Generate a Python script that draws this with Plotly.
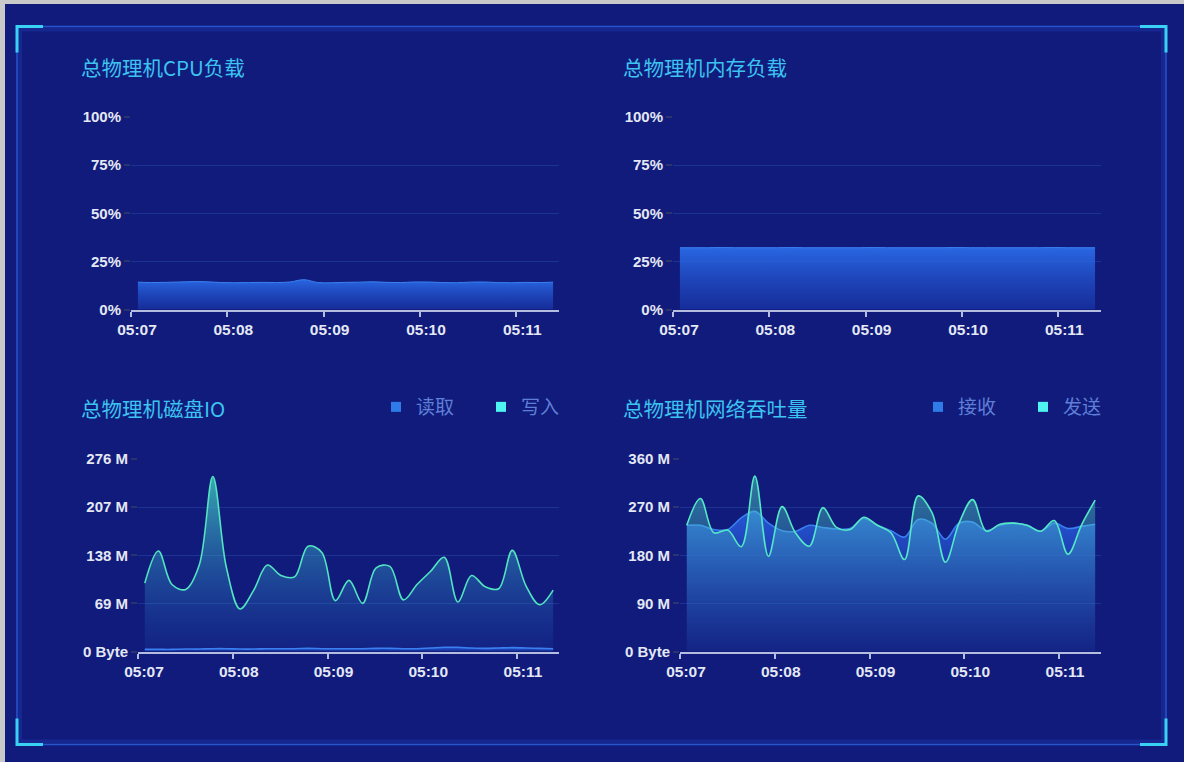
import plotly.graph_objects as go

W, H = 1184, 762

# ---------------- data ----------------
times = [
    "2021-01-01 05:07:04.3", "2021-01-01 05:07:12.9", "2021-01-01 05:07:21.5", "2021-01-01 05:07:30.2",
    "2021-01-01 05:07:38.8", "2021-01-01 05:07:47.4", "2021-01-01 05:07:56.0", "2021-01-01 05:08:04.6",
    "2021-01-01 05:08:13.3", "2021-01-01 05:08:21.9", "2021-01-01 05:08:30.5", "2021-01-01 05:08:39.1",
    "2021-01-01 05:08:47.7", "2021-01-01 05:08:56.4", "2021-01-01 05:09:05.0", "2021-01-01 05:09:13.6",
    "2021-01-01 05:09:22.2", "2021-01-01 05:09:30.8", "2021-01-01 05:09:39.5", "2021-01-01 05:09:48.1",
    "2021-01-01 05:09:56.7", "2021-01-01 05:10:05.3", "2021-01-01 05:10:13.9", "2021-01-01 05:10:22.6",
    "2021-01-01 05:10:31.2", "2021-01-01 05:10:39.8", "2021-01-01 05:10:48.4", "2021-01-01 05:10:57.0",
    "2021-01-01 05:11:05.7", "2021-01-01 05:11:14.3", "2021-01-01 05:11:22.9",
]

cpu_pct = [14.2, 14.0, 14.1, 14.3, 14.5, 14.4, 14.0, 13.9, 14.0, 14.1, 14.0, 14.3, 15.5, 14.0, 13.9, 14.1,
           14.2, 14.4, 14.1, 14.0, 14.3, 14.3, 14.0, 13.9, 14.2, 14.3, 14.0, 13.9, 14.1, 14.0, 14.2]

mem_pct = [32.1, 32.1, 32.1, 32.2, 32.1, 32.1, 32.1, 32.1, 32.2, 32.1, 32.1, 32.1, 32.1, 32.1, 32.2, 32.1,
           32.1, 32.1, 32.1, 32.1, 32.2, 32.1, 32.1, 32.1, 32.1, 32.1, 32.1, 32.2, 32.1, 32.1, 32.1]

disk_read_m = [3.0, 3.0, 3.0, 3.5, 3.5, 4.0, 4.0, 3.5, 3.5, 4.0, 4.0, 4.0, 4.5, 4.0, 4.0, 4.0,
               4.0, 4.5, 4.5, 4.0, 4.0, 5.0, 6.0, 6.0, 5.0, 4.5, 5.0, 5.5, 5.0, 4.5, 4.0]

disk_write_m = [98, 144, 96, 89, 124, 251, 120, 61, 88, 124, 109, 107, 151, 142, 73, 102,
                69, 120, 122, 74, 96, 115, 135, 71, 109, 93, 90, 145, 94, 67, 88]

net_recv_m = [236, 236, 228, 228, 250, 262, 240, 226, 225, 236, 232, 229, 230, 249, 236, 226,
              214, 247, 240, 210, 240, 242, 226, 236, 240, 236, 225, 240, 230, 234, 238]

net_send_m = [236, 286, 222, 227, 196, 328, 178, 271, 221, 197, 269, 232, 228, 251, 236, 222,
              172, 291, 260, 167, 240, 284, 225, 238, 240, 236, 225, 245, 182, 237, 283]

titles = ["总物理机CPU负载", "总物理机内存负载", "总物理机磁盘IO", "总物理机网络吞吐量"]
disk_legend = ["读取", "写入"]
net_legend = ["接收", "发送"]

pct_ticks = [0, 25, 50, 75, 100]
pct_text = ["0%", "25%", "50%", "75%", "100%"]
disk_ticks = [0, 69, 138, 207, 276]
disk_text = ["0 Byte", "69 M", "138 M", "207 M", "276 M"]
net_ticks = [0, 90, 180, 270, 360]
net_text = ["0 Byte", "90 M", "180 M", "270 M", "360 M"]
x_ticks = ["2021-01-01 05:07", "2021-01-01 05:08", "2021-01-01 05:09", "2021-01-01 05:10", "2021-01-01 05:11"]
x_text = ["05:07", "05:08", "05:09", "05:10", "05:11"]
x_range = ["2021-01-01 05:07:00", "2021-01-01 05:11:26.6"]

# ---------------- style ----------------
BG = "#101b7c"
TITLE_C = "#3cc3f0"
LABEL_C = "#e4e8f4"
GRID_C = "#1d3394"
AXIS_C = "#b4bce0"
LEG_C = "#5f7fd6"
CJK = "Noto Sans CJK SC"
LAT = "Liberation Sans, Arial, sans-serif"


def px(x):
    return x / W


def py(y):
    return 1 - y / H


def area(x, y, xa, ya, line_c, top_c, bot_c, lw=1.5):
    return go.Scatter(
        x=x, y=y, xaxis=xa, yaxis=ya, mode="lines",
        line=dict(color=line_c, width=lw, shape="spline", smoothing=1.0),
        fill="tozeroy",
        fillgradient=dict(type="vertical", colorscale=[[0, bot_c], [1, top_c]], start=0, stop=max(y)),
        showlegend=False, hoverinfo="skip",
    )


fig = go.Figure()

# CPU
fig.add_trace(area(times, cpu_pct, "x", "y", "#3a80f0",
                   "rgba(42,108,232,0.95)", "rgba(35,80,210,0.35)", 1))
# Memory
fig.add_trace(area(times, mem_pct, "x2", "y2", "#3a80f0",
                   "rgba(42,108,232,0.95)", "rgba(35,80,210,0.35)", 1))
# Disk IO: write then read
fig.add_trace(area(times, disk_write_m, "x3", "y3", "#52e4c0",
                   "rgba(70,215,195,0.75)", "rgba(40,100,200,0.10)", 1.6))
fig.add_trace(area(times, disk_read_m, "x3", "y3", "#3a80f0",
                   "rgba(42,108,232,0.9)", "rgba(35,80,210,0.3)", 1.6))
# Network: receive then send
fig.add_trace(area(times, net_recv_m, "x4", "y4", "#3a80f0",
                   "rgba(40,92,222,0.92)", "rgba(30,60,180,0.10)", 1.6))
fig.add_trace(area(times, net_send_m, "x4", "y4", "#55e8c6",
                   "rgba(80,222,195,0.50)", "rgba(60,150,200,0.05)", 1.6))

# legend-only entries
leg_cols = ["#2f7ce8", "#4ff4f0"]
for name, col in zip(disk_legend, leg_cols):
    fig.add_trace(go.Scatter(x=[None], y=[None], xaxis="x3", yaxis="y3", mode="markers", name=name,
                             marker=dict(symbol="square", size=10, color=col), legend="legend"))
for name, col in zip(net_legend, leg_cols):
    fig.add_trace(go.Scatter(x=[None], y=[None], xaxis="x4", yaxis="y4", mode="markers", name=name,
                             marker=dict(symbol="square", size=10, color=col), legend="legend2"))


def xaxis(d0, d1, anchor):
    return dict(
        domain=[px(d0), px(d1)], anchor=anchor, type="date", range=x_range,
        tickmode="array", tickvals=x_ticks, ticktext=x_text,
        showline=True, linecolor=AXIS_C, linewidth=2,
        ticks="outside", ticklen=5, tickwidth=1.5, tickcolor=AXIS_C,
        showgrid=False, zeroline=False, automargin=False,
        tickfont=dict(family=LAT, size=15.5, color=LABEL_C, weight="bold"),
        ticklabelshift=6, fixedrange=True,
    )


def yaxis(d0, d1, anchor, rng, tv, tt):
    return dict(
        domain=[py(d1), py(d0)], anchor=anchor, range=rng,
        tickmode="array", tickvals=tv, ticktext=tt,
        showline=False, showgrid=True, gridcolor=GRID_C, gridwidth=1, zeroline=False,
        ticks="outside", ticklen=6, tickwidth=1.5, tickcolor="#2a3470", automargin=False,
        tickfont=dict(family=LAT, size=15, color=LABEL_C, weight="bold"), fixedrange=True,
    )


shapes = []
# outer gray border (top & left)
shapes.append(dict(type="rect", xref="paper", yref="paper", x0=0, x1=1, y0=py(4), y1=1,
                   fillcolor="#c9c9c9", line=dict(width=0), layer="below"))
shapes.append(dict(type="rect", xref="paper", yref="paper", x0=0, x1=px(5), y0=0, y1=1,
                   fillcolor="#c9c9c9", line=dict(width=0), layer="below"))
# frame
FX0, FX1, FY0, FY1 = 17, 1166, 26.5, 744.5
shapes.append(dict(type="rect", xref="paper", yref="paper", x0=px(FX0), x1=px(FX1), y0=py(FY1), y1=py(FY0),
                   line=dict(color="rgba(45,105,235,0.75)", width=1.5), fillcolor="rgba(0,0,0,0)", layer="below"))
shapes.append(dict(type="rect", xref="paper", yref="paper", x0=px(FX0 + 3), x1=px(FX1 - 3), y0=py(FY1 - 3), y1=py(FY0 + 3),
                   line=dict(color="rgba(40,80,200,0.25)", width=4), fillcolor="rgba(0,0,0,0)", layer="below"))
CL = 26
CC = "#3ad2f4"
for (cx, cy, dx, dy) in [(FX0, FY0, 1, 1), (FX1, FY0, -1, 1), (FX0, FY1, 1, -1), (FX1, FY1, -1, -1)]:
    path = f"M {px(cx + dx * CL)},{py(cy)} L {px(cx)},{py(cy)} L {px(cx)},{py(cy + dy * CL)}"
    shapes.append(dict(type="path", xref="paper", yref="paper", path=path,
                       line=dict(color=CC, width=3), layer="above"))

annotations = []
for t, (x, y) in zip(titles, [(79, 67), (621, 67), (79, 408), (621, 408)]):
    annotations.append(dict(text=t, x=px(x), y=py(y), xref="paper", yref="paper",
                            xanchor="left", yanchor="middle", showarrow=False,
                            font=dict(family=CJK, size=20.5, color=TITLE_C)))

leg_common = dict(orientation="h", xanchor="left", yanchor="middle", bgcolor="rgba(0,0,0,0)",
                  font=dict(family=CJK, size=19, color=LEG_C), entrywidth=60, entrywidthmode="pixels",
                  itemclick=False, itemdoubleclick=False)

fig.update_layout(
    width=W, height=H, margin=dict(l=0, r=0, t=0, b=0, pad=0, autoexpand=False),
    paper_bgcolor=BG, plot_bgcolor="rgba(0,0,0,0)",
    showlegend=True,
    legend=dict(x=px(376), y=py(407), **leg_common),
    legend2=dict(x=px(918), y=py(407), **leg_common),
    xaxis=xaxis(131, 559, "y"), yaxis=yaxis(117, 309.5, "x", [0, 100], pct_ticks, pct_text),
    xaxis2=xaxis(673, 1101, "y2"), yaxis2=yaxis(117, 309.5, "x2", [0, 100], pct_ticks, pct_text),
    xaxis3=xaxis(138, 559, "y3"), yaxis3=yaxis(459, 651.5, "x3", [0, 276], disk_ticks, disk_text),
    xaxis4=xaxis(680, 1101, "y4"), yaxis4=yaxis(459, 651.5, "x4", [0, 360], net_ticks, net_text),
    shapes=shapes, annotations=annotations,
    hovermode=False,
)

fig.write_html("out.html", config=dict(displayModeBar=False),
               post_script="document.body.style.margin='0';document.body.style.overflow='hidden';")
